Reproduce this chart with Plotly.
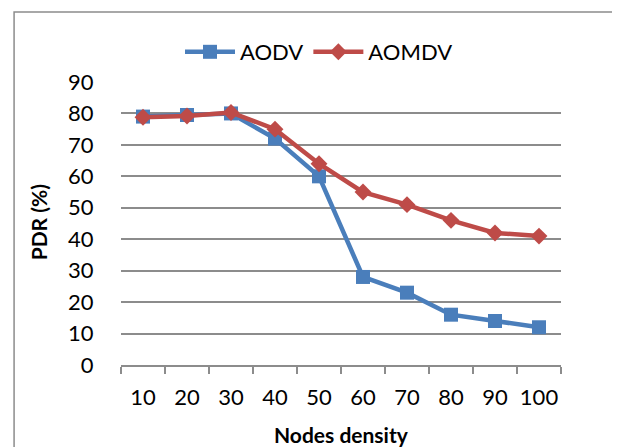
import plotly.graph_objects as go

categories = ["10", "20", "30", "40", "50", "60", "70", "80", "90", "100"]
aodv = [79, 79.5, 80, 72, 60, 28, 23, 16, 14, 12]
aomdv = [78.8, 79.2, 80.3, 75, 64, 55, 51, 46, 42, 41]
y_ticks = [0, 10, 20, 30, 40, 50, 60, 70, 80, 90]

FONT = "Lato"
BLUE = "#4A7EBB"
RED = "#BE4B48"
GRID = "#8C8C8C"

fig = go.Figure()
fig.add_trace(go.Scatter(
    x=categories, y=aodv, name="AODV", mode="lines+markers",
    line=dict(color=BLUE, width=4.5),
    marker=dict(symbol="square", size=14, color=BLUE),
))
fig.add_trace(go.Scatter(
    x=categories, y=aomdv, name="AOMDV", mode="lines+markers",
    line=dict(color=RED, width=4.5),
    marker=dict(symbol="diamond", size=13, color=RED),
))

fig.update_layout(
    width=612, height=439,
    margin=dict(l=113, r=59, t=74, b=82),
    paper_bgcolor="white", plot_bgcolor="white",
    font=dict(family=FONT, size=22, color="black"),
    showlegend=True,
    legend=dict(orientation="h", x=0.45, y=1.106, xanchor="center", yanchor="middle",
                font=dict(family=FONT, size=22, color="black"),
                bgcolor="rgba(0,0,0,0)", itemwidth=50),
    xaxis=dict(
        type="category", range=[-0.5, 9.5], tickson="boundaries",
        ticks="outside", ticklen=7, tickcolor=GRID, tickwidth=1.5,
        showline=True, linecolor=GRID, linewidth=1.5, tickangle=0,
        showgrid=False, zeroline=False, ticklabelstandoff=12,
        tickfont=dict(family=FONT, size=22),
    ),
    yaxis=dict(
        range=[0, 90], tickvals=y_ticks,
        showgrid=True, gridcolor=GRID, gridwidth=1.5,
        zeroline=False, showline=False,
        ticks="outside", ticklen=10, tickcolor="rgba(0,0,0,0)",
        ticklabelstandoff=12,
        tickfont=dict(family=FONT, size=22),
    ),
    shapes=[dict(type="rect", xref="paper", yref="paper",
                 x0=-0.243, x1=1.1295, y0=-0.35, y1=1.247,
                 line=dict(color="#8C8C8C", width=1.5), fillcolor="rgba(0,0,0,0)", layer="below")],
    annotations=[
        dict(text="<b>PDR (%)</b>", xref="paper", yref="paper", x=-0.188, y=0.505,
             textangle=-90, showarrow=False, xanchor="center", yanchor="middle",
             font=dict(family=FONT, size=21)),
        dict(text="<b>Nodes density</b>", xref="paper", yref="paper", x=0.5, y=-0.247,
             showarrow=False, xanchor="center", yanchor="middle",
             font=dict(family=FONT, size=21)),
    ],
)

fig.write_html("out.html")
